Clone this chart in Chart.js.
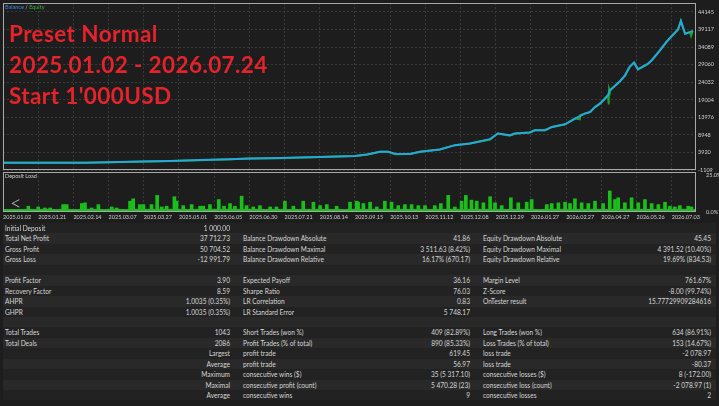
<!DOCTYPE html>
<html>
<head>
<meta charset="utf-8">
<script src="https://cdn.jsdelivr.net/npm/chart.js@4.4.1/dist/chart.umd.min.js"></script>
<style>
    html, body { margin: 0; padding: 0; background: #1d1d1d; overflow: hidden; }
    #wrap { position: relative; width: 719px; height: 406px; font-family: Lato, sans-serif; }
    canvas { position: absolute; left: 0; }
    #main { top: 0; }
    #load { top: 170px; }
    .red { position: absolute; left: 9px; color: #e6222b; font: 700 22.5px/22px Lato, sans-serif; letter-spacing: 0.4px; white-space: nowrap; }
    .tiny { position: absolute; font: 5.5px/6px Lato, sans-serif; color: #cfcfcf; white-space: nowrap; }
    #arrow { position: absolute; left: 10px; top: 192px; font: 300 20px/20px Lato, sans-serif; color: #c8c8c8; }
    #table { position: absolute; left: 3px; top: 223px; width: 713px; }
    .row { position: relative; height: 10.45px; font: 6.6px/10.45px Lato, sans-serif; color: #d6d6d6; }
    .row:nth-child(odd) { background: #222; }
    .row:nth-child(even) { background: #292929; }
    .row span { position: absolute; top: 0; white-space: nowrap; }
    .l1 { left: 2px; } .v1 { right: 486px; }
    .l2 { left: 240px; } .v2 { right: 246px; }
    .l3 { left: 480px; } .v3 { right: 5px; }
</style>
</head>
<body>
<div id="wrap">
    <canvas id="main" width="719" height="177"></canvas>
    <canvas id="load" width="719" height="52"></canvas>
    <div class="tiny" style="left:5px;top:4px"><span style="color:#3f86dc">Balance</span> / <span style="color:#3fae3f">Equity</span></div>
    <div class="red" style="top:23px">Preset Normal</div>
    <div class="red" style="top:54px">2025.01.02 - 2026.07.24</div>
    <div class="red" style="top:84.5px">Start 1'000USD</div>
    <div class="tiny" style="left:5px;top:173px">Deposit Load</div>
    <div id="arrow">&lt;</div>
    <div id="table"></div>
</div>
<script>
// balance / equity curve (x = position along the tester timeline, 10 units per date label)
const balanceX = [0, 23.3, 38.9, 47.5, 56, 64.5, 70.2, 78.6, 84.4, 90, 100, 103.5, 107.1, 109.4, 111.4, 115.6, 118.5, 124.1, 128.4,
    132.7, 138.4, 140.6, 144, 145.5, 149.7, 151.1, 154, 156, 159.7, 162.5, 165.3, 166.8, 168.2, 169.6, 171, 171.9, 172.4,
    175.3, 176.7, 178.1, 179.3, 180.4, 183.2, 184.4, 186.6, 188.4, 190.1, 191.8, 192.6, 193.8, 195.2, 196];
const balanceY = [1000, 1000, 1310, 1500, 1737, 2000, 2164, 2330, 2505, 2620, 2875, 3300, 4099, 4099, 3530, 3445, 4099, 4782, 6006,
    6490, 7714, 9336, 8852, 9336, 9620, 10275, 10275, 11214, 11983, 13605, 15028, 15483, 16906, 17874, 19297, 20321, 21659,
    24305, 25928, 28489, 29627, 27721, 29258, 30397, 33043, 35406, 37312, 39105, 41581, 37881, 38365, 38712];
const equityX = [0, 23.3, 38.9, 47.5, 56, 64.5, 70.2, 78.6, 84.4, 90, 100, 103.5, 107.1, 109.4, 111.4, 115.6, 118.5, 124.1, 128.4,
    132.7, 138.4, 140.6, 144, 145.5, 149.7, 151.1, 154, 156, 159.7, 162.5, 163.9, 164.0, 165.3, 166.8, 168.2, 169.6, 171, 171.9, 172.1, 172.2, 172.4,
    175.3, 176.7, 178.1, 179.3, 180.4, 183.2, 184.4, 186.6, 188.4, 190.1, 191.8, 192.6, 193.8, 195.2, 195.5, 196];
const equityY = [1000, 1000, 1250, 1500, 1650, 2000, 2164, 2250, 2505, 2620, 2875, 3300, 4099, 4099, 3400, 3445, 4099, 4782, 6006,
    6490, 7600, 9336, 8700, 9336, 9620, 10275, 10275, 11214, 11983, 13605, 13400, 14600, 15028, 15483, 16906, 17874, 19297, 20321, 17633, 22228, 21659,
    24305, 25928, 28489, 29627, 27721, 29258, 30397, 33043, 35406, 37312, 39105, 41581, 37881, 38365, 37300, 38712];
const yTickValues = [-1109, 3920, 8948, 13976, 19004, 24032, 29060, 34089, 39117, 44145];
const yMin = -1109, yMax = 46700;

// date labels under the deposit load panel
const xTickLabels = ["2025.01.02", "2025.01.21", "2025.02.14", "2025.03.07", "2025.03.27", "2025.05.01", "2025.06.05",
    "2025.06.30", "2025.07.21", "2025.08.14", "2025.09.15", "2025.10.13", "2025.11.12", "2025.12.08", "2025.12.29",
    "2026.01.27", "2026.02.27", "2026.04.27", "2026.05.26", "2026.07.03"];
const xMax = 196.9;

// deposit load spikes, percent
const loadX = [1.0, 4.3, 7.2, 10.0, 11.9, 13.4, 17.1, 18.1, 22.4, 23.3, 25.2, 27.1, 30.9, 32.3, 36.1, 37.0, 38.9, 39.9, 42.2,
    43.8, 45.1, 46.5, 48.7, 49.3, 51.2, 53.6, 56.0, 56.9, 58.8, 61.3, 62.8, 64.5, 65.9, 67.8, 69.2, 71.1, 73.0, 75.9, 77.7,
    80.1, 82.5, 85.3, 88.2, 90.1, 92.0, 94.8, 98.6, 100.5, 100.9, 102.4, 104.3, 106.2, 108.5, 110.4, 112.3, 114.2, 116.1,
    118.0, 119.9, 122.7, 124.4, 126.5, 128.4, 130.3, 131.5, 133.1, 134.6, 136.5, 138.4, 139.8, 141.7, 144.3, 146.4, 148.8,
    150.2, 154.5, 155.9, 157.8, 159.7, 161.1, 162.5, 164.4, 166.3, 168.2, 170.5, 172.4, 173.9, 174.8, 176.7, 178.6, 180.5,
    182.4, 184.3, 186.2, 188.1, 189.5, 190.9, 192.3, 194.7, 195.6];
const loadY = [1.6, 1.6, 3.9, 3.4, 2.7, 2.7, 5.0, 5.0, 5.7, 6.2, 2.7, 5.0, 3.4, 2.7, 7.3, 8.9, 5.0, 5.0, 5.0,
    11.2, 3.4, 3.9, 10.3, 7.3, 4.3, 5.0, 3.9, 3.9, 5.0, 8.4, 3.9, 5.7, 3.9, 10.7, 4.3, 3.4, 4.3, 3.4, 3.4,
    7.3, 3.9, 7.3, 6.6, 4.3, 5.0, 3.9, 6.6, 7.3, 6.6, 5.7, 6.6, 3.4, 7.3, 6.6, 4.3, 5.0, 5.0,
    4.3, 4.3, 4.3, 5.7, 11.2, 3.4, 7.3, 11.2, 8.0, 7.3, 6.2, 10.3, 6.2, 4.3, 9.6, 6.2, 6.6,
    8.4, 5.0, 5.7, 6.2, 6.6, 5.7, 8.9, 6.2, 5.7, 7.3, 5.7, 14.2, 8.4, 9.6, 6.2, 9.6, 6.2,
    8.4, 5.7, 5.0, 6.6, 3.9, 3.4, 4.3, 3.9, 3.4];
const baseLoad = 1.5;
const loadTicks = [0, 25];

// report table
const col1Labels = ["Initial Deposit", "Total Net Profit", "Gross Profit", "Gross Loss", "", "Profit Factor", "Recovery Factor",
    "AHPR", "GHPR", "", "Total Trades", "Total Deals", "", "", "", "", ""];
const col1Values = ["1 000.00", "37 712.73", "50 704.52", "-12 991.79", "", "3.90", "8.59", "1.0035 (0.35%)", "1.0035 (0.35%)",
    "", "1043", "2086", "Largest", "Average", "Maximum", "Maximal", "Average"];
const col2Labels = ["", "Balance Drawdown Absolute", "Balance Drawdown Maximal", "Balance Drawdown Relative", "", "Expected Payoff",
    "Sharpe Ratio", "LR Correlation", "LR Standard Error", "", "Short Trades (won %)", "Profit Trades (% of total)",
    "profit trade", "profit trade", "consecutive wins ($)", "consecutive profit (count)", "consecutive wins"];
const col2Values = ["", "41.86", "3 511.63 (8.42%)", "16.17% (670.17)", "", "36.16", "76.03", "0.83", "5 748.17", "",
    "409 (82.89%)", "890 (85.33%)", "619.45", "56.97", "35 (5 317.10)", "5 470.28 (23)", "9"];
const col3Labels = ["", "Equity Drawdown Absolute", "Equity Drawdown Maximal", "Equity Drawdown Relative", "", "Margin Level",
    "Z-Score", "OnTester result", "", "", "Long Trades (won %)", "Loss Trades (% of total)", "loss trade", "loss trade",
    "consecutive losses ($)", "consecutive loss (count)", "consecutive losses"];
const col3Values = ["", "45.45", "4 391.52 (10.40%)", "19.69% (834.53)", "", "761.67%", "-8.00 (99.74%)", "15.77729909284616",
    "", "", "634 (86.91%)", "153 (14.67%)", "-2 078.97", "-80.37", "8 (-172.00)", "-2 078.97 (1)", "2"];

const table = document.getElementById("table");
col1Labels.forEach((label, i) => {
    const row = document.createElement("div");
    row.className = "row";
    const cells = [["l1", label], ["v1", col1Values[i]], ["l2", col2Labels[i]], ["v2", col2Values[i]],
        ["l3", col3Labels[i]], ["v3", col3Values[i]]];
    cells.forEach(([cls, text]) => {
        if (!text) return;
        const span = document.createElement("span");
        span.className = cls;
        span.textContent = text;
        row.appendChild(span);
    });
    table.appendChild(row);
});

const gridColor = "#3a3a3a";
const tickFont = { family: "Lato", size: 5.5 };

// light frame round each panel
const framePlugin = {
    id: "frame",
    afterDraw(chart) {
        const a = chart.chartArea, ctx = chart.ctx;
        ctx.save();
        ctx.strokeStyle = "#a8a8a8";
        ctx.lineWidth = 1;
        ctx.strokeRect(a.left + 0.5, a.top + 0.5, a.right - a.left - 1, a.bottom - a.top - 1);
        ctx.restore();
    }
};

// keep label overflow from shrinking the plot area
function noPadding(s) {
    s.paddingLeft = 0; s.paddingRight = 0; s.paddingTop = 0; s.paddingBottom = 0;
}

function xScale(showLabels) {
    return {
        type: "linear", min: 0, max: xMax, offset: false,
        afterBuildTicks: s => { s.ticks = xTickLabels.map((_, i) => ({ value: i * 10 })); },
        afterFit: s => { s.height = showLabels ? 10 : 0; noPadding(s); },
        ticks: { display: showLabels, align: "start", padding: 2, color: "#cfcfcf", font: tickFont,
            maxRotation: 0, autoSkip: false, callback: (v, i) => xTickLabels[i] },
        grid: { color: gridColor, drawTicks: false, offset: false },
        border: { display: false, dash: [2, 2] }
    };
}

new Chart(document.getElementById("main"), {
    type: "line",
    data: {
        datasets: [
            { label: "Balance", data: balanceX.map((x, i) => ({ x, y: balanceY[i] })), borderColor: "#27a8dd",
              borderWidth: 2, pointRadius: 0, tension: 0, order: 0 },
            { label: "Equity", data: equityX.map((x, i) => ({ x, y: equityY[i] })), borderColor: "#1c9f22",
              borderWidth: 2, pointRadius: 0, tension: 0, order: 1 }
        ]
    },
    options: {
        responsive: false, animation: false,
        layout: { padding: { left: 3, top: 3, right: 0, bottom: 7 } },
        plugins: { legend: { display: false }, tooltip: { enabled: false } },
        scales: {
            x: xScale(false),
            y: {
                position: "right", min: yMin, max: yMax,
                afterBuildTicks: s => { s.ticks = yTickValues.map(v => ({ value: v })); },
                afterFit: s => { s.width = 23; noPadding(s); },
                ticks: { color: "#cfcfcf", font: tickFont, padding: 2, callback: v => String(v) },
                grid: { color: gridColor, drawTicks: false },
                border: { display: false, dash: [2, 2] }
            }
        }
    },
    plugins: [framePlugin]
});

new Chart(document.getElementById("load"), {
    data: {
        datasets: [
            { type: "bar", data: loadX.map((x, i) => ({ x, y: loadY[i] })), backgroundColor: "#19c019",
              barThickness: 3, order: 0 },
            { type: "line", data: [{ x: 0, y: baseLoad }, { x: xMax, y: baseLoad }], borderColor: "#2ed02e",
              borderWidth: 1, backgroundColor: "#19c019", fill: "origin", pointRadius: 0, order: 1 }
        ]
    },
    options: {
        responsive: false, animation: false,
        layout: { padding: { left: 3, top: 2, right: 0, bottom: 0 } },
        plugins: { legend: { display: false }, tooltip: { enabled: false } },
        scales: {
            x: xScale(true),
            y: {
                position: "right", min: 0, max: 27,
                afterBuildTicks: s => { s.ticks = loadTicks.map(v => ({ value: v })); },
                afterFit: s => { s.width = 23; noPadding(s); },
                ticks: { color: "#cfcfcf", font: tickFont, padding: 2, callback: v => v.toFixed(1) + "%" },
                grid: { display: false },
                border: { display: false }
            }
        }
    },
    plugins: [framePlugin]
});
</script>
</body>
</html>
